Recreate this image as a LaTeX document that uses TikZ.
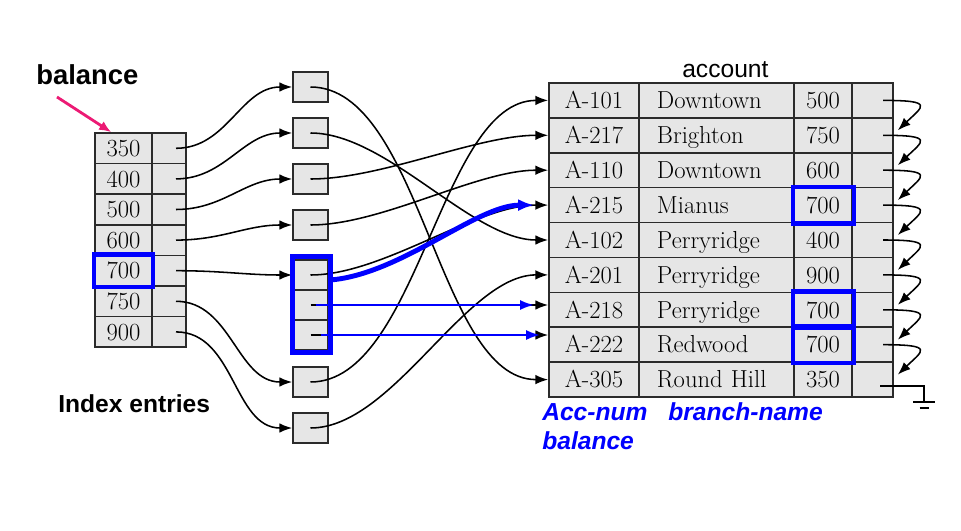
\documentclass[tikz,border=0pt]{standalone}
\usepackage{fontspec}
\setsansfont{Liberation Sans}
\usepackage{tikz}
\usetikzlibrary{arrows.meta}
\definecolor{cellgray}{HTML}{E6E6E6}
\definecolor{rulegray}{HTML}{2B2B2B}
\definecolor{MyPink}{HTML}{EC1A74}
\colorlet{MyBlue}{blue}

\tikzset{
  cell/.style={draw=rulegray, line width=1.2pt, fill=cellgray, inner sep=0pt,
    text height=0.5cm, text depth=0.09cm, font=\fontsize{17.5}{20}\selectfont},
  keycell/.style={cell, minimum width=1.425cm, minimum height=0.765cm},
  ptrcell/.style={cell, minimum width=0.85cm, minimum height=0.765cm},
  bucket/.style={cell, minimum width=0.875cm, minimum height=0.75cm},
  acccell/.style={cell, minimum height=0.8725cm},
  link/.style={line width=1.1pt, -{Latex[length=3.2mm,width=2.4mm]}},
  hilite/.style={draw=MyBlue, line width=3pt},
  label/.style={inner sep=0pt, anchor=base west, font=\sffamily\bfseries\fontsize{17.5}{21}\selectfont},
  bluelabel/.style={label, text=MyBlue, font=\sffamily\bfseries\itshape\fontsize{17.5}{21}\selectfont},
}

\begin{document}
\begin{tikzpicture}[x=0.025cm,y=0.025cm]
    \useasboundingbox (0,0) rectangle (961,-531);

    % index entries on balance
    \foreach[count=\i] \v in {350,400,500,600,700,750,900} {
        \node[keycell] (k\i) at (123.5,{-117.7-30.6*\i}) {\v};
        \node[ptrcell] (p\i) at (169,{-117.7-30.6*\i}) {};
    }

    % buckets
    \foreach \b/\y in {b1/87,b2/133,b3/179,b4/225,m1/275,m2/305,m3/335,b6/382,b7/428} {
        \node[bucket] (\b) at (310.5,-\y) {};
    }

    % account file
    \foreach[count=\i] \a/\n/\v in {A-101/Downtown/500,A-217/Brighton/750,A-110/Downtown/600,
        A-215/Mianus/700,A-102/Perryridge/400,A-201/Perryridge/900,A-218/Perryridge/700,
        A-222/Redwood/700,A-305/Round Hill/350} {
        \node[acccell, minimum width=2.25cm] (a\i) at (594,{-65.5-34.9*\i}) {\a};
        \node[acccell, text width=2.975cm, inner xsep=0.45cm, align=left] (n\i) at (716.5,{-65.5-34.9*\i}) {\n};
        \node[acccell, minimum width=1.45cm] (v\i) at (823,{-65.5-34.9*\i}) {\v};
        \node[acccell, minimum width=1.025cm] (q\i) at (872.5,{-65.5-34.9*\i}) {};
    }

    \foreach \i/\t in {1/b1,2/b2,3/b3,4/b4,5/m1,6/b6,7/b7} {
        \draw[link] ([shift={(7,0)}]p\i.center) to[out=0,in=180] (\t.west);
    }
    \foreach \b/\r in {b1/9,b2/5,b3/2,b4/3,m1/4,b6/1,b7/6} {
        \draw[link] (\b.center) to[out=0,in=180,looseness=0.75] (a\r.west);
    }
    \draw[link] (m2.center) -- (m2.center -| a7.west);
    \draw[link] (m3.center) -- (m3.center -| a8.west);

    % chain of records
    \foreach \i [count=\j from 2] in {1,...,8} {
        \draw[link] ([shift={(10.5,0)}]q\i.center) .. controls +(52,0) and +(25,24) .. ([shift={(4,5)}]q\j.east);
    }
    \draw[line width=1.1pt] ([shift={(7.5,-6.5)}]q9.center) -- ++(44,0) -- ++(0,-16) coordinate (gnd);
    \draw[line width=1.1pt] ([shift={(-11,0)}]gnd) -- ([shift={(11,0)}]gnd);
    \draw[line width=1.1pt] ([shift={(-4.5,-6)}]gnd) -- ([shift={(4.5,-6)}]gnd);

    % highlighted 700
    \draw[hilite] (k5.north west) rectangle (k5.south east);
    \draw[hilite, line width=3.5pt] ([shift={(0.5,3)}]m1.north west) rectangle ([shift={(2,-1.5)}]m3.south east);
    \foreach \i in {4,7,8} {
        \draw[hilite] (v\i.north west) rectangle ([shift={(1.5,0)}]v\i.south east);
    }
    \draw[MyBlue, line width=3.5pt, -{Latex[length=4mm,width=3mm]}, shorten >=0.35cm]
        ([shift={(20,-5)}]m1.center) to[out=5,in=180,looseness=0.8] (a4.west);
    \draw[MyBlue, line width=1.6pt, -{Latex[length=3.5mm,width=2.5mm]}, shorten >=0.35cm]
        ([shift={(5,0)}]m2.center) -- (m2.center -| a7.west);
    \draw[MyBlue, line width=1.6pt, -{Latex[length=3.5mm,width=2.5mm]}, shorten >=0.2cm]
        ([shift={(10,0)}]m3.center) -- (m3.center -| a8.west);

    % labels
    \node[label, font=\sffamily\bfseries\fontsize{19.5}{23}\selectfont] (bal) at (36,-85) {balance};
    \coordinate (tail) at (57,-97);
    \draw[MyPink, line width=2pt, -{Latex[length=3mm,width=2.5mm]}] (tail) -- ([shift={(17,0)}]k1.north west);
    \node[label] (idx) at (58,-412) {Index entries};
    \node[label, font=\sffamily\fontsize{17.5}{21}\selectfont] (acc) at (682,-78) {account};
    \node[bluelabel] (accnum) at (542,-420) {Acc-num};
    \node[bluelabel] (brname) at (668,-420) {branch-name};
    \node[bluelabel] (balblue) at (542,-449) {balance};
\end{tikzpicture}
\end{document}
